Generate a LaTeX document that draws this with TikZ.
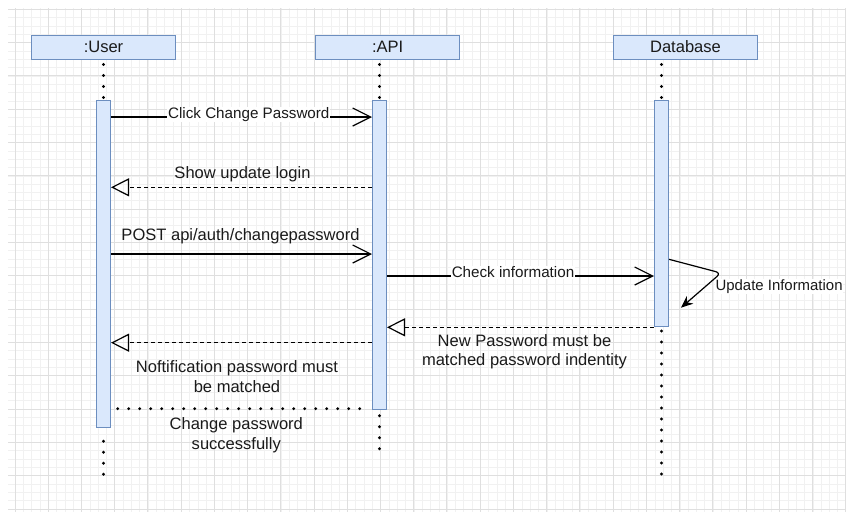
\documentclass[tikz,border=0pt]{standalone}
\usepackage{fontspec}
\setmainfont{Liberation Sans}
\usepackage{tikz}
\usetikzlibrary{arrows.meta}

\definecolor{actfill}{HTML}{DAE8FC}
\definecolor{actline}{HTML}{6C8EBF}
\definecolor{gridmajor}{HTML}{DFDFDF}
\definecolor{gridminor}{HTML}{F1F1F1}
\definecolor{ink}{HTML}{1A1A1A}

\tikzset{
    head/.style={draw=actline, fill=actfill, line width=0.75pt, minimum width=108pt,
        minimum height=18pt, inner sep=0pt, text=ink, font=\fontsize{12.4}{14}\selectfont},
    actbar/.style={draw=actline, fill=actfill, line width=0.75pt, minimum width=10.5pt,
        inner sep=0pt, anchor=north},
    lifeline/.style={line width=2.4pt, line cap=round, dash pattern=on 0pt off 8.25pt},
    call/.style={line width=0.9pt, -{Straight Barb[length=13.5pt,width=13.5pt]}},
    reply/.style={line width=0.9pt, dash pattern=on 3pt off 2.25pt,
        -{Triangle[open,length=13.5pt,width=13.5pt]}},
    msg/.style={text=ink, font=\fontsize{12.4}{14.7}\selectfont, align=center, inner sep=0pt},
    online/.style={msg, font=\fontsize{11.4}{13}\selectfont, fill=white, inner sep=0.6pt},
}

\begin{document}
\begin{tikzpicture}[x=0.75pt, y=-0.75pt]
        \useasboundingbox (0,0) rectangle (846,512);
        \fill[white] (0,0) rectangle (846,512);

        \begin{scope}
            \clip (8,8) rectangle (846,512); % the grid paper
            \foreach \i in {0,...,104}{                      % minor lines
                \draw[gridminor, line width=0.75pt] ({-18+8.31*\i},8) -- ++(0,504);
            }
            \foreach \j in {0,...,64}{
                \draw[gridminor, line width=0.75pt] (8,{-24+8.333*\j}) -- ++(838,0);
            }
            \foreach \i in {0,...,25}{                       % major lines
                \draw[gridmajor, line width=0.75pt] ({15+33.23*\i},8) -- ++(0,504);
            }
            \foreach \j in {0,...,15}{
                \draw[gridmajor, line width=0.75pt] (8,{9.3+33.33*\j}) -- ++(838,0);
            }
        \end{scope}

        % participants
        \node[head] (user) at (103.5,47) {:User};
        \node[head] (api) at (387.7,47) {:API};
        \node[head] (db) at (685.5,47) {Database};

        % activation bars
        \node[actbar, minimum height=245.25pt] (userbar) at (103.5,100) {};
        \node[actbar, minimum height=231.75pt] (apibar) at (379.5,100) {};
        \node[actbar, minimum height=169.5pt] (dbbar) at (661.5,100) {};

        % lifelines
        \coordinate (userend) at (103.5,475);
        \coordinate (apiend) at (379.5,450);
        \coordinate (dbend) at (661.5,476);
        \draw[lifeline, shorten <=3.75pt] (user.south) -- (userbar.north);
        \draw[lifeline, shorten <=3.75pt] (apibar.north |- api.south) -- (apibar.north);
        \draw[lifeline, shorten <=3.75pt] (dbbar.north |- db.south) -- (dbbar.north);
        \draw[lifeline, shorten <=10pt] (userbar.south) -- (userend);
        \draw[lifeline, shorten <=4.3pt] (apibar.south) -- (apiend);
        \draw[lifeline, shorten <=3pt] (dbbar.south) -- (dbend);

        % messages
        \draw[call] (userbar.east |- 0,117) -- (apibar.west |- 0,117);
        \node[online] (clicklbl) at (248.8,114.5) {Click Change Password};

        \draw[reply] (apibar.west |- 0,187.3) -- (userbar.east |- 0,187.3);
        \node[msg] (showlbl) at (242.5,174) {Show update login};

        \draw[call] (userbar.east |- 0,254) -- (apibar.west |- 0,254);
        \node[msg] (postlbl) at (240.5,236) {POST api/auth/changepassword};

        \draw[call] (apibar.east |- 0,276) -- (dbbar.west |- 0,276);
        \node[online] (checklbl) at (513,272.5) {Check information};

        % self call on the database
        \draw[line width=0.9pt, rounded corners=4pt, -{Stealth[length=9pt,width=7.5pt]}]
            (dbbar.east |- 0,259.3) -- (721,273) -- (681,307.7);
        \node[online, anchor=west, font=\fontsize{11.2}{13}\selectfont] (updlbl) at (714.5,286.7) {Update Information};

        \draw[reply] (dbbar.west |- 0,327.3) -- (apibar.east |- 0,327.3);
        \node[msg] (newlbl) at (524.5,351.7) {New Password must be\\matched password indentity};

        \draw[reply] (apibar.west |- 0,342.7) -- (userbar.east |- 0,342.7);
        \node[msg] (notelbl) at (237,376.3) {Noftification password must\\be matched};

        \draw[lifeline, shorten <=5pt, shorten >=6pt] (userbar.east |- 0,408.7) -- (apibar.west |- 0,408.7);
        \node[msg] (donelbl) at (236.3,435.5) {Change password\\successfully};
\end{tikzpicture}
\end{document}
